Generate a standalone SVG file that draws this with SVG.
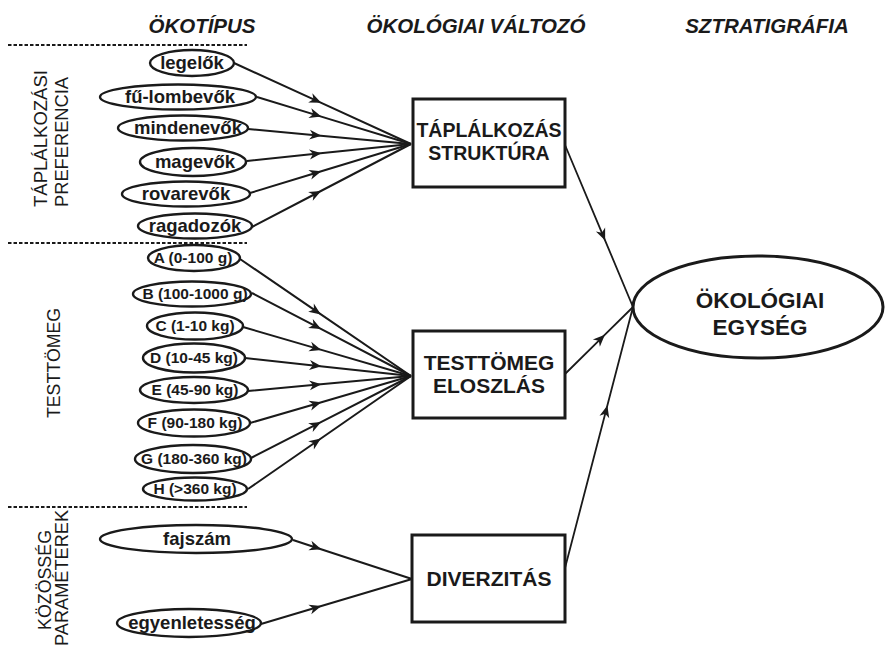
<svg xmlns="http://www.w3.org/2000/svg" width="886" height="648" viewBox="0 0 886 648">
<style>
text{font-family:"Liberation Sans",Arial,sans-serif;fill:#1a1a1a}
.hdr{font-size:20.5px;font-weight:bold;font-style:italic;text-anchor:middle}
.side{font-size:17.5px}
.el{fill:#fff;stroke:#1a1a1a;stroke-width:2.4}
.t18{font-size:18.5px;font-weight:bold;text-anchor:middle}
.t15{font-size:15.5px;font-weight:bold;text-anchor:middle}
.box{fill:#fff;stroke:#1a1a1a;stroke-width:3}
.bt{font-size:20px;font-weight:bold;text-anchor:middle}
.dash{stroke:#1a1a1a;stroke-width:2;stroke-dasharray:3.5 2;fill:none}
.c{fill:none;stroke:#1a1a1a;stroke-width:2;marker-mid:url(#ah)}
.r{fill:none;stroke:#1a1a1a;stroke-width:1.8;marker-mid:url(#ah)}
</style>
<defs>
<marker id="ah" markerUnits="userSpaceOnUse" markerWidth="16" markerHeight="12" viewBox="-10 -6 14 12" refX="0" refY="0" orient="auto">
<path d="M3.5,0 L-8.5,-5 L-5,0 L-8.5,5 Z" fill="#1a1a1a"/>
</marker>
</defs>

<g id="headers">
<text class="hdr" x="202" y="33">ÖKOTÍPUS</text>
<text class="hdr" x="476" y="33">ÖKOLÓGIAI VÁLTOZÓ</text>
<text class="hdr" x="767" y="33">SZTRATIGRÁFIA</text>
</g>

<g id="separators">
<line class="dash" x1="8" y1="45" x2="247" y2="45"/>
<line class="dash" x1="8" y1="243" x2="247" y2="243"/>
<line class="dash" x1="8" y1="507" x2="247" y2="507"/>
</g>

<g id="side-labels">
<text class="side" transform="translate(47,207) rotate(-90)" textLength="137" lengthAdjust="spacingAndGlyphs">TÁPLÁLKOZÁSI</text>
<text class="side" transform="translate(68,207) rotate(-90)" textLength="130" lengthAdjust="spacingAndGlyphs">PREFERENCIA</text>
<text class="side" transform="translate(60,418) rotate(-90)" textLength="110" lengthAdjust="spacingAndGlyphs">TESTTÖMEG</text>
<text class="side" transform="translate(51,630) rotate(-90)" textLength="100" lengthAdjust="spacingAndGlyphs">KÖZÖSSÉG</text>
<text class="side" transform="translate(68,646) rotate(-90)" textLength="136" lengthAdjust="spacingAndGlyphs">PARAMÉTEREK</text>
</g>

<g id="connectors">
<path class="c" d="M234,63 L318,101.4 L411,144"/>
<path class="c" d="M257,97 L318,115.6 L411,144"/>
<path class="c" d="M248,129 L318,135.4 L411,144"/>
<path class="c" d="M247,161 L318,153.6 L411,144"/>
<path class="c" d="M250,193 L318,172.3 L411,144"/>
<path class="c" d="M252,227 L318,192.5 L411,144"/>

<path class="c" d="M240,259 L318,312.4 L411,376"/>
<path class="c" d="M252,293 L318,327.4 L411,376"/>
<path class="c" d="M243,327 L318,348.9 L411,376"/>
<path class="c" d="M245,358 L318,365.9 L411,376"/>
<path class="c" d="M248,391 L318,384.6 L411,376"/>
<path class="c" d="M250,423 L318,403.2 L411,376"/>
<path class="c" d="M251,458 L318,423.7 L411,376"/>
<path class="c" d="M248,489 L318,440.5 L411,376"/>

<path class="c" d="M293,540 L318,548.2 L412,579"/>
<path class="c" d="M261,624 L318,607 L412,579"/>

<path class="r" d="M565,145 L603.8,237.3 L633,307"/>
<path class="r" d="M565,374 L602.4,337.2 L633,307"/>
<path class="r" d="M565,568 L606.5,408.8 L633,307"/>
</g>

<g id="n-legelok"><ellipse class="el" cx="192" cy="63" rx="42" ry="13"/><text class="t18" x="192" y="69">legelők</text></g>
<g id="n-fulombevok"><ellipse class="el" cx="178" cy="97" rx="78" ry="12.5"/><text class="t18" x="180" y="103">fű-lombevők</text></g>
<g id="n-mindenevok"><ellipse class="el" cx="183" cy="128" rx="65" ry="12.5"/><text class="t18" x="188" y="134">mindenevők</text></g>
<g id="n-magevok"><ellipse class="el" cx="193" cy="162" rx="53" ry="14"/><text class="t18" x="195" y="168">magevők</text></g>
<g id="n-rovarevok"><ellipse class="el" cx="186" cy="194" rx="64" ry="12.5"/><text class="t18" x="186" y="200">rovarevők</text></g>
<g id="n-ragadozok"><ellipse class="el" cx="195" cy="226" rx="57" ry="12.5"/><text class="t18" x="195" y="232">ragadozók</text></g>

<g id="n-A"><ellipse class="el" cx="194" cy="258" rx="46" ry="13"/><text class="t15" x="193" y="263">A (0-100 g)</text></g>
<g id="n-B"><ellipse class="el" cx="192" cy="294" rx="59" ry="12.5"/><text class="t15" x="195" y="299">B (100-1000 g)</text></g>
<g id="n-C"><ellipse class="el" cx="195" cy="326" rx="48" ry="13.5"/><text class="t15" x="195" y="331">C (1-10 kg)</text></g>
<g id="n-D"><ellipse class="el" cx="194" cy="358" rx="51" ry="14.5"/><text class="t15" x="194" y="363">D (10-45 kg)</text></g>
<g id="n-E"><ellipse class="el" cx="194" cy="390" rx="54" ry="13"/><text class="t15" x="195" y="395">E (45-90 kg)</text></g>
<g id="n-F"><ellipse class="el" cx="194" cy="423" rx="56" ry="13.5"/><text class="t15" x="195" y="428">F (90-180 kg)</text></g>
<g id="n-G"><ellipse class="el" cx="193" cy="459" rx="58" ry="14"/><text class="t15" x="194" y="464">G (180-360 kg)</text></g>
<g id="n-H"><ellipse class="el" cx="195" cy="489" rx="52" ry="11.5"/><text class="t15" x="195" y="494">H (&gt;360 kg)</text></g>

<g id="n-fajszam"><ellipse class="el" cx="196" cy="539" rx="96" ry="14"/><text class="t18" x="197" y="545">fajszám</text></g>
<g id="n-egyenletesseg"><ellipse class="el" cx="189" cy="623" rx="72" ry="14"/><text class="t18" x="192" y="629">egyenletesség</text></g>

<g id="n-taplalkozas"><rect class="box" x="413" y="99" width="152" height="88"/><text class="bt" x="489" y="137" style="font-size:19.5px">TÁPLÁLKOZÁS</text><text class="bt" x="489" y="160" style="font-size:19.5px">STRUKTÚRA</text></g>
<g id="n-testtomeg"><rect class="box" x="413" y="331" width="152" height="87"/><text class="bt" x="489" y="370" style="font-size:21px">TESTTÖMEG</text><text class="bt" x="489" y="393" style="font-size:21px">ELOSZLÁS</text></g>
<g id="n-diverzitas"><rect class="box" x="412" y="535" width="153" height="87"/><text class="bt" x="489" y="586" style="font-size:21px">DIVERZITÁS</text></g>

<g id="n-okologiai-egyseg"><ellipse class="el" cx="758" cy="307" rx="125" ry="51" style="stroke-width:3"/><text class="bt" x="760" y="308" style="font-size:22.5px">ÖKOLÓGIAI</text><text class="bt" x="760" y="335" style="font-size:22.5px">EGYSÉG</text></g>
</svg>
